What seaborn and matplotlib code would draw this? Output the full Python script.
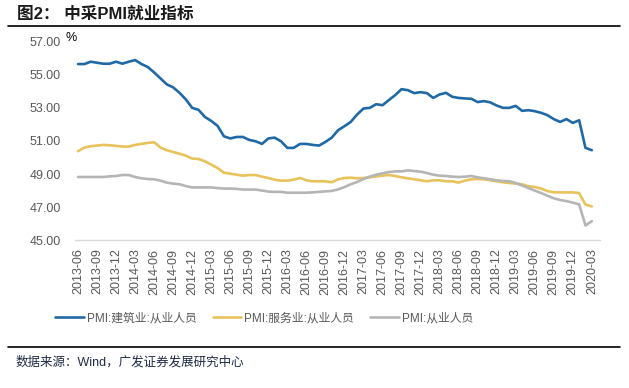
import pandas as pd
import matplotlib
matplotlib.use("Agg")
import matplotlib.pyplot as plt
import seaborn as sns

# -----------------------
# DATA
# -----------------------
months = pd.period_range("2013-06", "2020-03", freq="M").strftime("%Y-%m").tolist()

construction = [
    55.65, 55.65, 55.79, 55.73, 55.67, 55.67, 55.79, 55.67, 55.79, 55.89,
    55.65, 55.47, 55.14, 54.78, 54.42, 54.24, 53.91, 53.51, 53.00, 52.88,
    52.45, 52.21, 51.91, 51.28, 51.15, 51.24, 51.24, 51.06, 50.98, 50.82,
    51.15, 51.20, 50.98, 50.58, 50.58, 50.82, 50.82, 50.76, 50.72, 50.94,
    51.20, 51.65, 51.89, 52.15, 52.60, 52.96, 53.00, 53.22, 53.16, 53.47,
    53.77, 54.13, 54.07, 53.89, 53.95, 53.89, 53.60, 53.81, 53.91, 53.67,
    53.60, 53.57, 53.55, 53.35, 53.41, 53.33, 53.14, 53.00, 53.00, 53.12,
    52.82, 52.86, 52.80, 52.70, 52.56, 52.32, 52.15, 52.32, 52.09, 52.25,
    50.58, 50.44,
]
services = [
    50.38, 50.60, 50.68, 50.72, 50.76, 50.74, 50.70, 50.66, 50.66, 50.76,
    50.82, 50.88, 50.92, 50.60, 50.44, 50.33, 50.23, 50.11, 49.93, 49.91,
    49.77, 49.57, 49.36, 49.08, 49.02, 48.96, 48.90, 48.94, 48.94, 48.84,
    48.76, 48.66, 48.60, 48.60, 48.66, 48.76, 48.62, 48.56, 48.56, 48.56,
    48.50, 48.68, 48.76, 48.78, 48.74, 48.76, 48.80, 48.86, 48.90, 48.94,
    48.88, 48.80, 48.74, 48.68, 48.62, 48.56, 48.62, 48.62, 48.56, 48.56,
    48.48, 48.60, 48.68, 48.70, 48.68, 48.62, 48.56, 48.50, 48.46, 48.42,
    48.38, 48.26, 48.22, 48.12, 47.97, 47.89, 47.89, 47.89, 47.89, 47.85,
    47.15, 47.04,
]
manufacturing = [
    48.82, 48.82, 48.82, 48.82, 48.82, 48.86, 48.88, 48.94, 48.94, 48.82,
    48.74, 48.70, 48.68, 48.60, 48.48, 48.42, 48.38, 48.27, 48.19, 48.19,
    48.19, 48.19, 48.15, 48.12, 48.12, 48.10, 48.06, 48.06, 48.06, 48.00,
    47.94, 47.92, 47.92, 47.87, 47.87, 47.87, 47.87, 47.89, 47.92, 47.95,
    47.98, 48.07, 48.21, 48.38, 48.52, 48.70, 48.84, 48.96, 49.04, 49.12,
    49.16, 49.16, 49.22, 49.18, 49.14, 49.06, 48.96, 48.90, 48.88, 48.84,
    48.82, 48.84, 48.88, 48.80, 48.74, 48.68, 48.62, 48.58, 48.56, 48.46,
    48.31, 48.15, 48.00, 47.85, 47.69, 47.53, 47.43, 47.36, 47.27, 47.16,
    45.89, 46.15,
]

series_names = ["PMI:建筑业:从业人员", "PMI:服务业:从业人员", "PMI:从业人员"]
colors = ["#1F69A6", "#E8C25A", "#B5B5B5"]

df = pd.DataFrame({
    "idx": list(range(len(months))) * 3,
    "value": construction + services + manufacturing,
    "series": [series_names[0]] * len(months)
    + [series_names[1]] * len(months)
    + [series_names[2]] * len(months),
})

# -----------------------
# STYLE
# -----------------------
sns.set_style("white")
plt.rcParams["font.family"] = ["Liberation Sans", "Noto Sans CJK SC", "DejaVu Sans"]

fig = plt.figure(figsize=(6.29, 3.88), dpi=100)
ax = fig.add_axes([0.119, 0.381, 0.835, 0.5115])

sns.lineplot(data=df, x="idx", y="value", hue="series", palette=colors,
             linewidth=1.9, ax=ax)

ax.set_xlim(-0.5, 82.3)
ax.set_ylim(45, 57)
ax.set_yticks(range(45, 58, 2))
ax.set_yticklabels([f"{v:.2f}" for v in range(45, 58, 2)])
tick_pos = list(range(0, len(months), 3))
ax.set_xticks(tick_pos)
ax.set_xticklabels([months[i] for i in tick_pos], rotation=90)
ax.tick_params(axis="both", length=0, labelsize=9, labelcolor="#595959")
ax.tick_params(axis="y", pad=10)
ax.tick_params(axis="x", pad=6)
ax.set_xlabel("")
ax.set_ylabel("")
for s in ["top", "right", "left"]:
    ax.spines[s].set_visible(False)
ax.spines["bottom"].set_color("#D9D9D9")
ax.spines["bottom"].set_linewidth(1)

sns.move_legend(ax, "center", bbox_to_anchor=(0.42, 0.18),
                bbox_transform=fig.transFigure, ncol=3, frameon=False,
                title=None, fontsize=8.5, handlelength=2.4, columnspacing=1.4,
                handletextpad=0.25)
for t in ax.get_legend().get_texts():
    t.set_color("#595959")

# -----------------------
# TEXT / DECORATION
# -----------------------
fig.text(0.027, 0.962, "图2： 中采PMI就业指标", fontsize=12, fontweight="bold",
         va="center", ha="left", color="#1a1a1a")
fig.add_artist(plt.Line2D([0.013, 0.985], [0.933, 0.933], color="black",
                          linewidth=1.2, transform=fig.transFigure))
fig.text(0.104, 0.902, "%", fontsize=9, va="center", ha="left", color="black")
fig.add_artist(plt.Line2D([0.013, 0.985], [0.106, 0.106], color="black",
                          linewidth=1.2, transform=fig.transFigure))
fig.text(0.025, 0.067, "数据来源：Wind，广发证券发展研究中心", fontsize=9,
         va="center", ha="left", color="#1F2A44")

plt.savefig("out.png", dpi=100)
